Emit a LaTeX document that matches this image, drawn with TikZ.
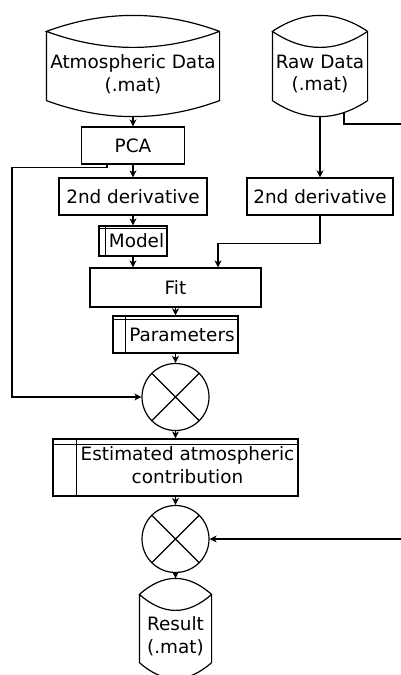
\documentclass[tikz,border=0pt]{standalone}
\usepackage{fontspec}
\setmainfont{DejaVu Sans}
\usetikzlibrary{calc,arrows.meta}
\newcommand{\drumline}[1]{%
 \draw ($(#1.north west)+(0,-16)$) -- (#1.south west)
   .. controls ($(#1.south west)!0.3333!(#1.south east)+(0,21.33)$) and ($(#1.south west)!0.6667!(#1.south east)+(0,21.33)$) .. (#1.south east)
   -- ($(#1.north east)+(0,-16)$)
   .. controls ($(#1.north west)!0.6667!(#1.north east)+(0,-37.33)$) and ($(#1.north west)!0.3333!(#1.north east)+(0,-37.33)$) .. ($(#1.north west)+(0,-16)$)
   .. controls ($(#1.north west)!0.3333!(#1.north east)+(0,5.33)$) and ($(#1.north west)!0.6667!(#1.north east)+(0,5.33)$) .. ($(#1.north east)+(0,-16)$);}
\newcommand{\storelines}[3]{%
 \draw ($(#1.north west)+(#2,0)$) -- ($(#1.south west)+(#2,0)$)
       ($(#1.north west)+(0,#3)$) -- ($(#1.north east)+(0,#3)$);}
\newcommand{\crosslines}[1]{%
 \draw (#1.north east) -- (#1.south west) (#1.north west) -- (#1.south east);}
\begin{document}
\begin{tikzpicture}[x=1pt,y=-1pt,line width=1.2pt,
  txt/.style={font=\fontsize{18.4}{22.8}\selectfont,inner sep=0pt,align=center},
  proc/.style={txt,draw,rectangle,minimum height=37pt},
  store/.style={txt,draw,rectangle},
  drum/.style={txt,rectangle},
  merge/.style={draw,circle,minimum size=67pt,inner sep=0pt},
  arr/.style={-{Stealth[length=7pt,width=7pt,inset=2pt]}}]
\useasboundingbox (0,0) rectangle (401,675);
\clip (0,0) rectangle (401,675);

% data stores
\node[drum,minimum width=172pt,minimum height=52pt] (atm) at (133,74) {Atmospheric Data\\(.mat)};
\node[drum,minimum width=94pt,minimum height=52pt] (raw) at (320,74) {Raw Data\\(.mat)};
\node[drum,minimum width=71pt,minimum height=51pt] (res) at (175.5,636.5) {Result\\(.mat)};
\drumline{atm}
\drumline{raw}
\drumline{res}
\coordinate (atm-b) at ($(atm.south)+(0,16)$);
\coordinate (raw-b) at ($(raw.south)+(0,16)$);
\coordinate (res-t) at ($(res.north)+(0,-32)$);
\coordinate (rawout) at (344,111.5);

% processes
\node[proc,minimum width=103pt] (pca) at (133,145.5) {PCA};
\node[proc,minimum width=148pt] (d1) at (133,196.5) {2nd derivative};
\node[proc,minimum width=146pt] (d2) at (320,196.5) {2nd derivative};
\node[store,minimum width=68pt,minimum height=30pt] (model) at (133,241) {\hspace*{7pt}Model};
\node[proc,minimum width=171pt,minimum height=39pt] (fit) at (175.5,287.5) {Fit};
\node[store,minimum width=125pt,minimum height=37pt] (par) at (175.5,334.5) {\hspace*{13pt}Parameters};
\node[merge] (m1) at (175.5,397) {};
\node[store,minimum width=245pt,minimum height=57pt] (est) at (175.5,467.5) {\hspace*{24pt}\begin{tabular}{@{}c@{}}Estimated atmospheric\\contribution\end{tabular}};
\node[merge] (m2) at (175.5,539) {};
\storelines{model}{7}{3}
\storelines{par}{13}{4}
\storelines{est}{24}{6}
\crosslines{m1}
\crosslines{m2}

\coordinate (leftx) at (12,0);
\coordinate (fitin) at ($(fit.north)+(42.5,0)$);
\coordinate (offr) at (425,124);

% connectors
\draw[arr] (atm-b) -- (pca.north);
\draw[arr] (pca) -- (d1);
\draw[arr] (d1) -- (model);
\draw[arr] (model.south) -- (model.south |- fit.north);
\draw[arr] (fit) -- (par);
\draw[arr] (par) -- (m1);
\draw[arr] (m1) -- (est);
\draw[arr] (est) -- (m2);
\draw[arr] (m2) -- (res-t);
\draw[arr] (raw-b) -- (d2.north);
\draw[arr] (d2.south) -- ++(0,28) -| (fitin);
\draw[arr] ($(pca.south)+(-26,0)$) -- ++(0,3) -| (m1.west -| leftx) -- (m1.west);
\draw[arr] (rawout) |- (offr) |- (m2.east);
\end{tikzpicture}
\end{document}
